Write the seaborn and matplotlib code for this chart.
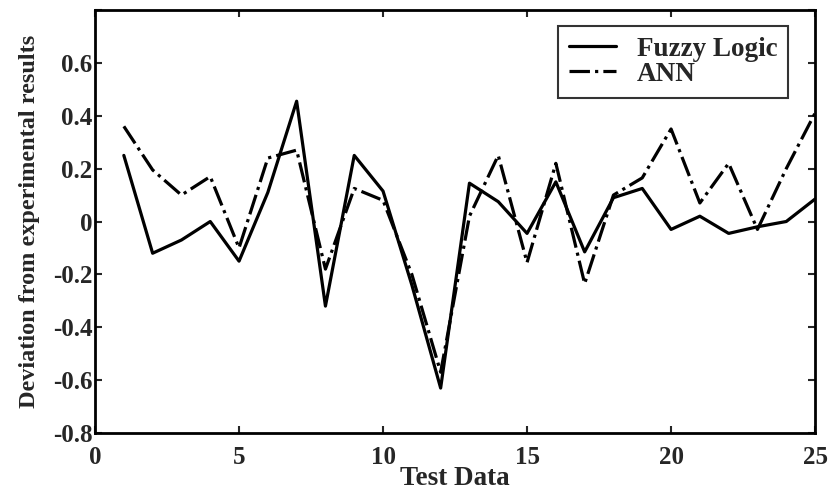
import matplotlib
matplotlib.use("Agg")
import matplotlib.pyplot as plt
import seaborn as sns
import numpy as np
import pandas as pd

test_data = list(range(1, 26))
fuzzy = [0.25, -0.12, -0.07, 0.0, -0.15, 0.11, 0.455, -0.32, 0.25, 0.115,
         -0.24, -0.63, 0.145, 0.075, -0.045, 0.15, -0.115, 0.09, 0.125, -0.03,
         0.02, -0.045, -0.02, 0.0, 0.085]
ann = [0.36, 0.195, 0.1, 0.17, -0.1, 0.24, 0.27, -0.18, 0.125, 0.08,
       -0.2, -0.57, 0.02, 0.25, -0.155, 0.22, -0.235, 0.1, 0.165, 0.35,
       0.07, 0.22, -0.03, 0.2, 0.41]

yticks = [-0.8, -0.6, -0.4, -0.2, 0, 0.2, 0.4, 0.6]
ytick_labels = ["-0.8", "-0.6", "-0.4", "-0.2", "0", "0.2", "0.4", "0.6"]
xticks = [0, 5, 10, 15, 20, 25]

sns.set_theme(style="ticks")
plt.rcParams['font.family'] = ['Liberation Serif', 'DejaVu Serif']
plt.rcParams['font.weight'] = 'bold'

fig = plt.figure(figsize=(8.3, 4.9), dpi=100)
ax = fig.add_axes([0.1145, 0.1163, 0.982 - 0.1145, 0.9796 - 0.1163])

df = pd.DataFrame({"x": test_data, "Fuzzy Logic": fuzzy, "ANN": ann})
sns.lineplot(data=df, x="x", y="Fuzzy Logic", ax=ax, color="black", lw=2.3,
             linestyle="-", label="Fuzzy Logic")
sns.lineplot(data=df, x="x", y="ANN", ax=ax, color="black", lw=2.3,
             linestyle="-.", label="ANN")

ax.set_xlim(0, 25)
ax.set_ylim(-0.8, 0.8)
ax.set_xticks(xticks)
ax.set_xticklabels([str(t) for t in xticks])
ax.set_yticks(yticks + [0.8])
ax.set_yticklabels(ytick_labels + [""])
ax.tick_params(direction="in", top=True, right=True, length=5, width=1.5,
               labelsize=18)
ax.tick_params(axis="y", pad=2)
ax.tick_params(axis="x", pad=9)
for lab in ax.get_xticklabels() + ax.get_yticklabels():
    lab.set_fontweight("bold")
for s in ax.spines.values():
    s.set_linewidth(2)
    s.set_color("black")

ax.set_xlabel("Test Data", fontsize=19.5, fontweight="bold", labelpad=-2)
ax.set_ylabel("Deviation from experimental results", fontsize=17.5,
              fontweight="bold", labelpad=9)

leg = ax.legend(loc="upper right", bbox_to_anchor=(0.9625, 0.962),
                borderaxespad=0, fontsize=19.5,
                frameon=True, fancybox=False, edgecolor="black",
                handlelength=1.75, handletextpad=0.75, borderpad=0.4,
                labelspacing=0.0)
leg.get_frame().set_linewidth(1.5)
for t in leg.get_texts():
    t.set_fontweight("bold")

fig.savefig("out.png", dpi=100)
